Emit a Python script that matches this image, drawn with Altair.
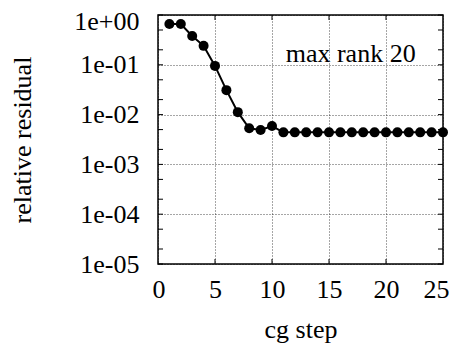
import altair as alt
import pandas as pd

# data
steps = list(range(1, 26))
residual = [0.66, 0.66, 0.38, 0.24, 0.095, 0.031, 0.0112, 0.0053, 0.0049, 0.0059,
            0.0044, 0.0044, 0.0044, 0.0044, 0.0044, 0.0044, 0.0044, 0.0044, 0.0044,
            0.0044, 0.0044, 0.0044, 0.0044, 0.0044, 0.0044]
y_major = [1, 1e-1, 1e-2, 1e-3, 1e-4, 1e-5]
y_minor = [m * 10.0 ** e for e in range(-5, 0) for m in (2, 5)]
x_ticks = [0, 5, 10, 15, 20, 25]
x_inner = [5, 10, 15, 20]
note_text = ["max rank 20"]
note_x = [16.9]
note_y = [0.165]

W, H = 285, 249
FONT = "Liberation Serif"
FS = 26

df = pd.DataFrame({"step": steps, "res": residual})
yt = pd.DataFrame({"res": y_major + y_minor})
xt = pd.DataFrame({"step": x_inner})
note = pd.DataFrame({"t": note_text, "step": note_x, "res": note_y})

xscale = alt.Scale(domain=[0, 25], nice=False, zero=False)
yscale = alt.Scale(type="log", domain=[1e-5, 1], nice=False)

label_expr = "datum.value >= 1 ? '1e+00' : '1e-0' + abs(round(log(datum.value) / LN10))"

common = dict(grid=True, ticks=False, domain=False,
              labelFont=FONT, titleFont=FONT, labelFontSize=FS, titleFontSize=FS,
              labelColor="black", titleColor="black", titleFontWeight="normal",
              gridColor="black", gridDash=[1, 2], gridOpacity=0.7, gridWidth=1)
xaxis = alt.Axis(title="cg step", values=x_ticks, labelPadding=12, titlePadding=14,
                 labelFlush=True, labelFlushOffset=6, **common)
yaxis = alt.Axis(title="relative residual", values=y_major, labelExpr=label_expr,
                 labelPadding=19, titlePadding=38,
                 labelOffset={"condition": {"test": "datum.value >= 1", "value": 6}, "value": 0},
                 **common)

X = lambda: alt.X("step:Q", scale=xscale, axis=xaxis)
Y = lambda: alt.Y("res:Q", scale=yscale, axis=yaxis)

main = alt.Chart(df).mark_line(color="black", strokeWidth=2,
                               point=alt.OverlayMarkDef(filled=True, size=100, color="black", opacity=1)).encode(
    x=X(), y=Y())

tl = alt.Chart(yt).mark_rule(color="black", strokeWidth=1).encode(
    y=Y(), x=alt.value(0), x2=alt.value(5))
tr = alt.Chart(yt).mark_rule(color="black", strokeWidth=1).encode(
    y=Y(), x=alt.value(W - 5), x2=alt.value(W))
tb = alt.Chart(xt).mark_rule(color="black", strokeWidth=1).encode(
    x=X(), y=alt.value(H - 5), y2=alt.value(H))
tt = alt.Chart(xt).mark_rule(color="black", strokeWidth=1).encode(
    x=X(), y=alt.value(0), y2=alt.value(5))

txt = alt.Chart(note).mark_text(font=FONT, fontSize=FS, color="black", align="center", baseline="middle").encode(
    x=X(), y=Y(), text="t:N")

chart = alt.layer(main, tl, tr, tb, tt, txt).properties(
    width=W, height=H,
    autosize=alt.AutoSizeParams(type="none"),
    padding={"left": 150, "top": 7, "right": 6, "bottom": 80},
).configure_view(stroke="black", strokeWidth=1.5)

chart.save("out.html", embed_options={"renderer": "svg", "actions": False})
